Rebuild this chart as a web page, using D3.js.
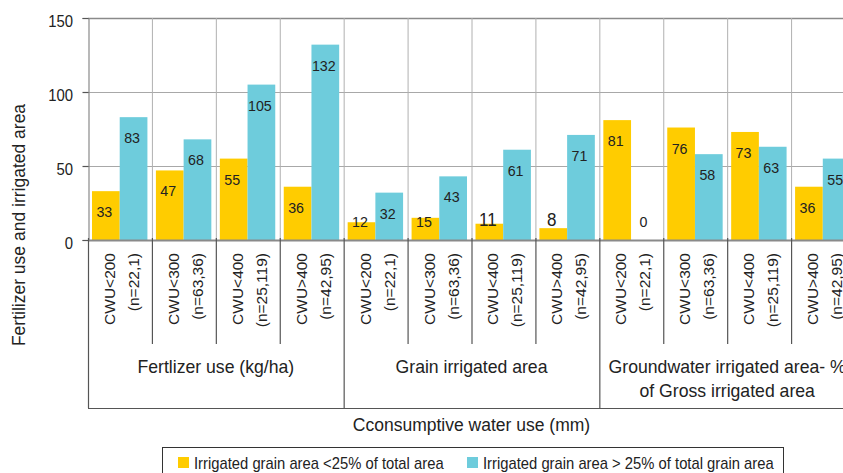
<!DOCTYPE html>
<html>
<head>
<meta charset="utf-8">
<script src="https://cdn.jsdelivr.net/npm/d3@7"></script>
<style>
  html, body { margin: 0; padding: 0; background: #fff; overflow: hidden; }
  svg { display: block; font-family: "Liberation Sans", Arial, sans-serif; }
</style>
</head>
<body>
<svg id="chart" width="843" height="473"></svg>
<script>
// ---------------- data ----------------
const categories = ["CWU<200", "CWU<300", "CWU<400", "CWU>400"];
const sampleSizes = ["(n=22,1)", "(n=63,36)", "(n=25,119)", "(n=42,95)"];
const groupLabels = [
  ["Fertlizer use (kg/ha)"],
  ["Grain irrigated area"],
  ["Groundwater irrigated area- %", "of Gross irrigated area"]
];
const seriesNames = [
  "Irrigated grain area <25% of total area",
  "Irrigated grain area > 25% of total grain area"
];
const lowShareValues  = [33, 47, 55, 36,  12, 15, 11, 8,  81, 76, 73, 36];
const highShareValues = [83, 68, 105, 132, 32, 43, 61, 71, 0, 58, 63, 55];
const yTicks = [0, 50, 100, 150];
const yTitle = "Fertilizer use and irrigated area";
const xTitle = "Cconsumptive water use (mm)";

// ---------------- setup ----------------
const colors = ["#FFCC00", "#6ECCDC"];
const textColor = "#222";
const svg = d3.select("#chart");

const plotLeft = 88, plotRight = 855, plotTop = 18, plotBottom = 240;
const sepBottom = 344, boxBottom = 408;

const nCat = lowShareValues.length;
const idx = d3.range(nCat);
const x = d3.scaleBand().domain(idx).range([plotLeft, plotRight]).padding(0);
const bw = x.bandwidth();
const x1 = d3.scaleBand().domain([0, 1]).range([4, bw - 4.5]).padding(0);
const y = d3.scaleLinear().domain([0, 150]).range([plotBottom, plotTop]);

function htext(parent, px, py, str, size, sx, anchor) {
  return parent.append("text")
    .attr("transform", `translate(${px},${py}) scale(${sx},1)`)
    .attr("text-anchor", anchor || "middle")
    .attr("fill", textColor)
    .style("font-size", size + "px")
    .text(str);
}

// ---------------- grid ----------------
const grid = svg.append("g");
yTicks.filter(t => t > 0).forEach(t => {
  grid.append("line")
    .attr("x1", plotLeft).attr("x2", plotRight)
    .attr("y1", y(t) + 0.5).attr("y2", y(t) + 0.5)
    .attr("stroke", t === 150 ? "#8a8a8a" : "#a8a8a8")
    .attr("stroke-width", t === 150 ? 1.6 : 1);
});
idx.slice(1).concat([nCat]).forEach(i => {
  const gx = i < nCat ? x(i) : plotRight;
  grid.append("line")
    .attr("x1", gx + 0.5).attr("x2", gx + 0.5)
    .attr("y1", plotTop).attr("y2", plotBottom)
    .attr("stroke", "#b0b0b0").attr("stroke-width", 1);
});

// ---------------- bars ----------------
const rows = idx.map(i => [lowShareValues[i], highShareValues[i]]);
const barG = svg.append("g");
idx.forEach(i => {
  rows[i].forEach((v, s) => {
    barG.append("rect")
      .attr("x", x(i) + x1(s))
      .attr("y", y(v))
      .attr("width", x1.bandwidth())
      .attr("height", y(0) - y(v))
      .attr("fill", colors[s]);
  });
});

// value labels (the two small values in the grain group are printed larger)
const emphasised = new Set(["6-0", "7-0"]);
idx.forEach(i => {
  rows[i].forEach((v, s) => {
    const cx = x(i) + x1(s) + x1.bandwidth() / 2 - 1.5;
    const by = Math.min(y(v) + 26, y(0) - 13);
    const big = emphasised.has(i + "-" + s);
    htext(barG, cx, big ? by - 1 : by, String(v), big ? 18.5 : 15.5, 0.92, "middle");
  });
});

// ---------------- y axis ----------------
const yAxis = svg.append("g")
  .attr("transform", `translate(${plotLeft + 0.5},0)`)
  .call(d3.axisLeft(y).tickValues(yTicks).tickSize(6).tickPadding(0).tickFormat(() => ""));
yAxis.select(".domain").attr("stroke", "#8a8a8a").attr("stroke-width", 1.2);
yAxis.selectAll(".tick line").attr("stroke", "#555").attr("stroke-width", 1.2);
yTicks.forEach(t => {
  htext(svg, 73, y(t) + 8.5, String(t), 16, 0.93, "end");
});

// y title
svg.append("text")
  .attr("transform", `translate(24.5,225) rotate(-90)`)
  .attr("text-anchor", "middle")
  .attr("fill", textColor)
  .style("font-size", "17.5px")
  .text(yTitle);

// ---------------- x axis (category table) ----------------
const xa = svg.append("g");
xa.append("line")
  .attr("x1", plotLeft).attr("x2", plotRight)
  .attr("y1", plotBottom + 0.5).attr("y2", plotBottom + 0.5)
  .attr("stroke", "#8a8a8a").attr("stroke-width", 2);

idx.concat([nCat]).forEach(i => {
  const gx = i < nCat ? x(i) : plotRight;
  const groupEdge = i % categories.length === 0;
  xa.append("line")
    .attr("x1", gx + 0.5).attr("x2", gx + 0.5)
    .attr("y1", plotBottom - 2).attr("y2", groupEdge ? boxBottom : sepBottom)
    .attr("stroke", "#555").attr("stroke-width", 1.2);
});
xa.append("line")
  .attr("x1", plotLeft).attr("x2", plotRight)
  .attr("y1", boxBottom + 0.5).attr("y2", boxBottom + 0.5)
  .attr("stroke", "#555").attr("stroke-width", 1.2);

idx.forEach(i => {
  const c = i % categories.length;
  const cx = x(i) + bw / 2;
  xa.append("text")
    .attr("transform", `translate(${cx - 5},253) rotate(-90)`)
    .attr("text-anchor", "end")
    .attr("fill", textColor)
    .style("font-size", "15.5px")
    .text(categories[c]);
  xa.append("text")
    .attr("transform", `translate(${cx + 19},253) rotate(-90)`)
    .attr("text-anchor", "end")
    .attr("fill", textColor)
    .style("font-size", "15.5px")
    .text(sampleSizes[c]);
});

groupLabels.forEach((lines, g) => {
  const gx0 = x(g * categories.length);
  const gx = gx0 + bw * categories.length / 2;
  lines.forEach((ln, k) => {
    htext(xa, gx, 373 + k * 24, ln, 18, 0.98, "middle");
  });
});

htext(svg, (plotLeft + plotRight) / 2, 431, xTitle, 17.5, 1, "middle");

// ---------------- legend ----------------
const lg = svg.append("g");
lg.append("rect")
  .attr("x", 162.5).attr("y", 447.5)
  .attr("width", 621).attr("height", 40)
  .attr("fill", "none").attr("stroke", "#333").attr("stroke-width", 1);
const legendX = [178, 467];
seriesNames.forEach((name, s) => {
  lg.append("rect")
    .attr("x", legendX[s]).attr("y", 457)
    .attr("width", 11).attr("height", 11)
    .attr("fill", colors[s]);
  htext(lg, legendX[s] + 16, 469, name, 16, 0.925, "start");
});
</script>
</body>
</html>
